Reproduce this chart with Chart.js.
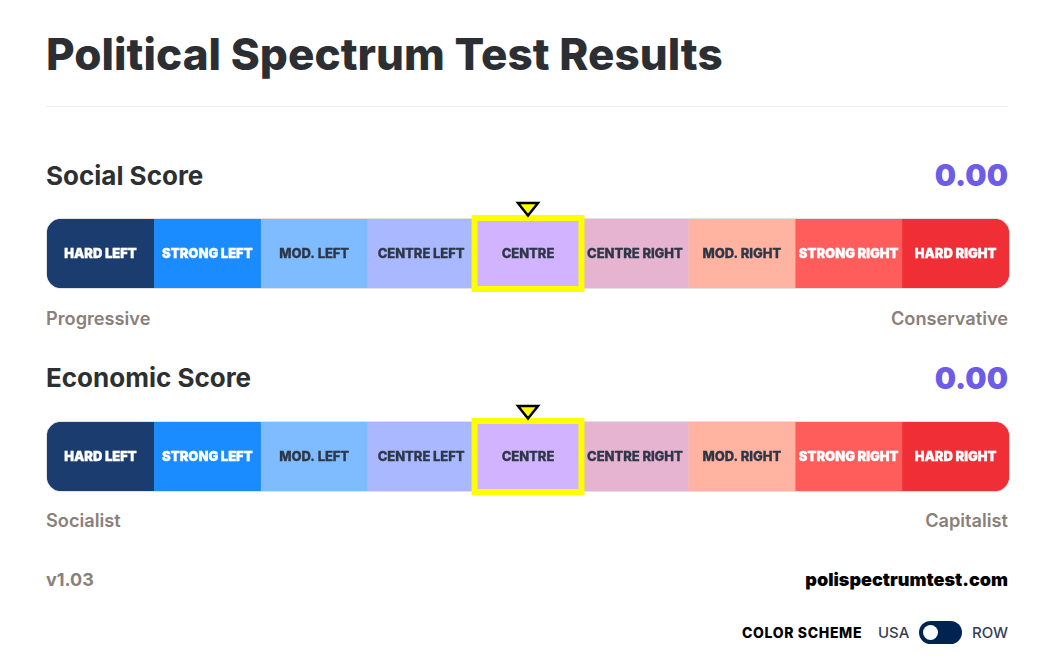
<!DOCTYPE html>
<html>
<head>
<meta charset="utf-8">
<script src="https://cdn.jsdelivr.net/npm/chart.js@4"></script>
<style>
  html, body { margin: 0; background: #fff; font-family: Inter, sans-serif; }
  #page { position: relative; width: 1052px; height: 663px; overflow: hidden; }
  #page > * { position: absolute; white-space: nowrap; line-height: 1; }
  canvas { left: 40px; }
  .l { left: 46px; }
  .r { right: 44px; }
  h1 { margin: 0; top: 32px; font-size: 44px; font-weight: 800; letter-spacing: 0.05px; color: #2b2f33; }
  h2 { margin: 0; font-size: 26px; font-weight: 650; color: #2d3033; }
  hr { margin: 0; border: 0; top: 106px; left: 46px; width: 962px; height: 1px; background: #eeeeee; }
  .score { font-size: 30px; font-weight: 900; color: #6c5ce7; }
  .end { font-size: 18.2px; font-weight: 600; color: #8a807a; }
  .toggle { left: 919px; top: 621px; width: 43px; height: 23px; border-radius: 12px; background: #002451; }
  .toggle i { position: absolute; left: 4px; top: 4px; width: 15px; height: 15px; border-radius: 50%; background: #fff; }
</style>
</head>
<body>
<div id="page">
  <h1 class="l">Political Spectrum Test Results</h1>
  <hr>
  <h2 class="l" style="top:163px">Social Score</h2>
  <div class="r score" style="top:160px">0.00</div>
  <canvas id="social" width="976" height="100" style="top:198px"></canvas>
  <div class="l end" style="top:309px">Progressive</div>
  <div class="r end" style="top:309px">Conservative</div>
  <h2 class="l" style="top:365px">Economic Score</h2>
  <div class="r score" style="top:363px">0.00</div>
  <canvas id="economic" width="976" height="100" style="top:401px"></canvas>
  <div class="l end" style="top:511px">Socialist</div>
  <div class="r end" style="top:511px">Capitalist</div>
  <div class="l" style="top:571px;font-size:18px;font-weight:700;color:#8a807a">v1.03</div>
  <div class="r" style="top:571px;font-size:18px;font-weight:900;color:#000">polispectrumtest.com</div>
  <div style="left:742px;top:626px;font-size:14px;font-weight:800;letter-spacing:0.65px;color:#000">COLOR SCHEME</div>
  <div style="left:878px;top:625px;font-size:15px;font-weight:500;color:#333f55">USA</div>
  <div class="toggle"><i></i></div>
  <div style="left:972px;top:625px;font-size:15px;font-weight:500;color:#333f55">ROW</div>
</div>
<script>
const bands = ['HARD LEFT', 'STRONG LEFT', 'MOD. LEFT', 'CENTRE LEFT', 'CENTRE', 'CENTRE RIGHT', 'MOD. RIGHT', 'STRONG RIGHT', 'HARD RIGHT'];
const bandStart = [-4.5, -3.5, -2.5, -1.5, -0.5, 0.5, 1.5, 2.5, 3.5];
const bandEnd = [-3.5, -2.5, -1.5, -0.5, 0.5, 1.5, 2.5, 3.5, 4.5];
const bandColors = ['#1a3c6e', '#1a8cff', '#7fbcff', '#a9b8ff', '#d1b3ff', '#e6b3d1', '#ffb3a0', '#ff5c5c', '#f02e36'];
const labelColors = ['#fff', '#fff', '#2d3748', '#2d3748', '#2d3748', '#2d3748', '#2d3748', '#fff', '#fff'];
const socialScore = 0;
const economicScore = 0;

// outline under the bar, band names, yellow box and marker on top
const spectrumPlugin = {
    id: 'spectrum',
    beforeDatasetsDraw(chart) {
        const { ctx, chartArea: a } = chart;
        ctx.save();
        ctx.strokeStyle = '#e2e2e2';
        ctx.beginPath();
        ctx.roundRect(a.left - 0.5, a.top - 0.5, a.width + 1, a.height + 1, 14);
        ctx.stroke();
        ctx.restore();
    },
    afterDatasetsDraw(chart, args, opts) {
        const { ctx, chartArea: a, scales: { x } } = chart;
        const mid = (a.top + a.bottom) / 2;
        ctx.save();
        ctx.textAlign = 'center';
        ctx.textBaseline = 'middle';
        bands.forEach((name, i) => {
            const el = chart.getDatasetMeta(i).data[0];
            const light = labelColors[i] === '#fff';
            ctx.font = (light ? '900' : '800') + ' 13px Inter';
            ctx.letterSpacing = light ? '0px' : '-0.05px';
            ctx.fillStyle = labelColors[i];
            ctx.strokeStyle = labelColors[i];
            ctx.lineWidth = 0.3;
            ctx.fillText(name, (el.x + el.base) / 2, mid + 0.5);
            ctx.strokeText(name, (el.x + el.base) / 2, mid + 0.5);
        });
        const hit = bands.findIndex((b, i) => opts.score >= bandStart[i] && opts.score <= bandEnd[i]);
        const left = x.getPixelForValue(bandStart[hit]);
        const right = x.getPixelForValue(bandEnd[hit]);
        ctx.strokeStyle = '#ffff00';
        ctx.lineWidth = 6;
        ctx.strokeRect(left, a.top - 1, right - left, a.height + 2);
        const px = x.getPixelForValue(opts.score);
        ctx.beginPath();
        ctx.moveTo(px - 10, a.top - 16);
        ctx.lineTo(px + 10, a.top - 16);
        ctx.lineTo(px, a.top - 3.5);
        ctx.closePath();
        ctx.fillStyle = '#ffff00';
        ctx.fill();
        ctx.strokeStyle = '#000';
        ctx.lineWidth = 2.5;
        ctx.stroke();
        ctx.restore();
    }
};

function drawSpectrum(id, score) {
    return new Chart(document.getElementById(id), {
        type: 'bar',
        data: {
            labels: [''],
            datasets: bands.map((name, i) => ({
                label: name,
                data: [[bandStart[i], bandEnd[i]]],
                backgroundColor: bandColors[i],
                grouped: false,
                barPercentage: 1,
                categoryPercentage: 1,
                inflateAmount: 0.15,
                borderSkipped: false,
                borderRadius: i === 0 ? { topLeft: 14, bottomLeft: 14 } : i === bands.length - 1 ? { topRight: 14, bottomRight: 14 } : 0
            }))
        },
        options: {
            indexAxis: 'y',
            responsive: false,
            animation: false,
            layout: { padding: { left: 7, right: 7, top: 21, bottom: 10 } },
            scales: {
                x: { display: false, min: bandStart[0], max: bandEnd[bandEnd.length - 1] },
                y: { display: false }
            },
            plugins: {
                legend: { display: false },
                tooltip: { enabled: false },
                spectrum: { score: score }
            }
        },
        plugins: [spectrumPlugin]
    });
}

drawSpectrum('social', socialScore);
drawSpectrum('economic', economicScore);
</script>
</body>
</html>
